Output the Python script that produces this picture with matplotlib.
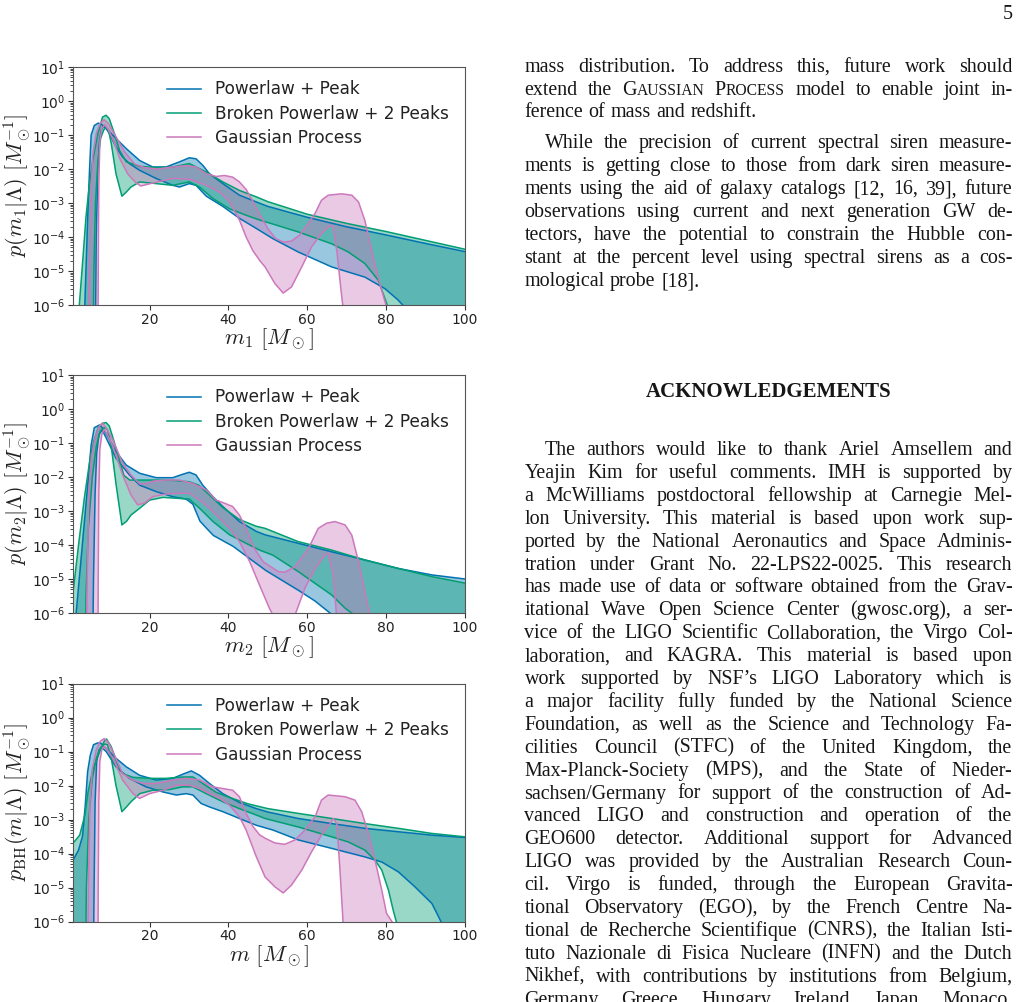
import numpy as np
import matplotlib
matplotlib.use("Agg")
import matplotlib.pyplot as plt
from matplotlib.ticker import LogLocator, NullFormatter, FixedLocator
from matplotlib.lines import Line2D

W, H = 1020, 1002
OFF = -8.0  # log10 value meaning "below the plotted range"

model_names = ["Powerlaw + Peak", "Broken Powerlaw + 2 Peaks", "Gaussian Process"]
model_colors = ["#0173b2", "#029e73", "#cc78bc"]
x_ticks = [20, 40, 60, 80, 100]
x_range = (0.6, 100)
y_range = (1e-6, 1e1)
y_labels = [r"$p(m_1|\Lambda)\ [M_\odot^{-1}]$", r"$p(m_2|\Lambda)\ [M_\odot^{-1}]$",
            r"$p_{\rm BH}(m|\Lambda)\ [M_\odot^{-1}]$"]
x_labels = [r"$m_1\ [M_\odot]$", r"$m_2\ [M_\odot]$", r"$m\ [M_\odot]$"]

# ---------------- panel 1 : m1  (x, log10 p) ----------------
m1_plp_hi = [(3.2, OFF), (3.6, -6), (4.3, -3.5), (4.8, -2.0), (5.2, -1.0), (6.0, -0.72), (7.0, -0.65),
             (8.0, -0.7), (9.0, -0.81), (11.5, -1.1), (14.1, -1.4), (17.5, -1.75), (20.8, -1.94),
             (24.2, -1.94), (27.6, -1.79), (30.1, -1.67), (31.8, -1.7), (33.5, -1.89), (35.2, -2.14),
             (38.6, -2.43), (42.8, -2.77), (47.1, -2.97), (50, -3.1), (60, -3.42), (70, -3.7),
             (80, -3.94), (90, -4.19), (100, -4.43)]
m1_plp_lo = [(6.2, OFF), (6.5, -4.0), (6.9, -2.0), (7.3, -1.2), (7.8, -0.85), (8.3, -0.75), (9.0, -0.8),
             (10, -1.0), (11.5, -1.35), (13.2, -1.65), (14.9, -1.84), (17.5, -2.04), (21.7, -2.28),
             (25.9, -2.48), (27.6, -2.53), (30.1, -2.43), (31.8, -2.48), (34.4, -2.8), (38.6, -3.1),
             (42.8, -3.45), (47.1, -3.75), (51.3, -4.05), (57.7, -4.44), (66.2, -4.88), (74.6, -5.18),
             (79.7, -5.52), (83, -5.85), (85, -6.1), (86, OFF), (100, OFF)]
m1_bpp_hi = [(1.8, OFF), (2.2, -6), (3.0, -4.8), (3.9, -3.4), (4.8, -2.4), (5.6, -1.75), (6.9, -0.96),
             (8.1, -0.47), (9.0, -0.42), (9.8, -0.52), (11.1, -0.96), (12.4, -1.45), (14.1, -1.79),
             (17.5, -1.92), (21.7, -1.96), (25.9, -1.94), (30.1, -1.84), (34.4, -2.09), (38.6, -2.38),
             (42.8, -2.63), (47.1, -2.82), (50, -2.96), (60, -3.33), (70, -3.6), (80, -3.84),
             (90, -4.1), (100, -4.36)]
m1_bpp_lo = [(5.6, OFF), (5.9, -5), (6.3, -3.0), (6.9, -1.8), (7.6, -1.1), (8.4, -0.85), (9.0, -0.78),
             (9.6, -0.85), (10.3, -1.25), (11.5, -2.14), (13.0, -2.8), (14.1, -2.68), (15.3, -2.53),
             (17.5, -2.38), (21.7, -2.43), (25.9, -2.48), (30.1, -2.38), (32.7, -2.53), (36.1, -2.87),
             (40.3, -3.17), (44.5, -3.36), (47.9, -3.5), (51.3, -3.62), (57.7, -3.85), (66.2, -4.2),
             (70.4, -4.44), (74.6, -4.78), (78, -5.27), (80.6, -6.1), (81.5, OFF), (100, OFF)]
m1_gp_hi = [(4.4, OFF), (4.7, -5), (5.1, -3), (5.6, -1.6), (6.5, -0.95), (7.5, -0.65), (8.5, -0.55),
            (9.5, -0.65), (11.5, -1.05), (13.7, -1.5), (16.2, -1.85), (18.8, -1.96), (22, -2.0),
            (25.9, -1.94), (29.3, -1.9), (31.8, -1.94), (34.4, -2.14), (36.9, -2.22), (39, -2.19),
            (41.1, -2.24), (42.8, -2.38), (44.5, -2.6), (46.2, -2.95), (48, -3.35), (50, -3.75),
            (52, -4.05), (54, -4.15), (56, -4.12), (58, -3.95), (60, -3.65), (62, -3.3), (63.6, -2.92),
            (65.3, -2.77), (68.7, -2.73), (71.3, -2.77), (73, -2.97), (74.6, -3.51), (76.3, -4.39),
            (78.4, -5.37), (80.1, -6.06), (81, OFF)]
m1_gp_lo = [(6.9, OFF), (7.0, -5), (7.15, -2.5), (7.4, -1.2), (7.9, -0.8), (8.7, -0.7), (9.6, -0.85),
            (11, -1.2), (12.5, -1.7), (14.5, -2.15), (16.5, -2.4), (17.8, -2.5), (19.5, -2.45),
            (22, -2.38), (25.9, -2.28), (30.1, -2.3), (34.4, -2.48), (37.8, -2.68), (40.3, -2.97),
            (42.8, -3.5), (44.5, -4.0), (46.2, -4.4), (48, -4.7), (49.3, -4.88), (51.8, -5.37),
            (53.9, -5.65), (56, -5.47), (58.6, -4.88), (61.1, -4.29), (63.6, -3.9), (65.8, -3.66),
            (66.5, -3.7), (67.5, -4.4), (68.5, -5.5), (69.1, -6.1), (69.5, OFF)]

# ---------------- panel 2 : m2 ----------------
m2_plp_hi = [(1.2, OFF), (1.4, -6), (2.5, -4.6), (3.5, -3.3), (4.5, -2.0), (5.2, -1.06), (6.0, -0.55),
             (7.3, -0.47), (8.0, -0.55), (9.0, -0.72), (11.5, -1.25), (14.1, -1.65), (17.5, -1.89),
             (21.7, -2.02), (25.9, -2.02), (28.4, -1.92), (30.1, -1.86), (31.8, -1.94), (33.5, -2.24),
             (36.1, -2.58), (38.6, -2.87), (42.8, -3.31), (47.1, -3.6), (49.3, -3.7), (57.7, -3.95),
             (66.2, -4.2), (74.6, -4.44), (83.1, -4.69), (91.6, -4.88), (100, -5.0)]
m2_plp_lo = [(5.5, OFF), (5.8, -5), (6.2, -2.5), (6.6, -1.3), (7.2, -0.75), (8.0, -0.62), (9.0, -0.85),
             (11.5, -1.45), (14.9, -1.94), (17.5, -2.24), (21.7, -2.43), (25.9, -2.58), (29.3, -2.65),
             (31, -2.8), (32.8, -3.3), (34.4, -3.5), (36.2, -3.72), (41.2, -4.04), (49.5, -4.75),
             (58, -5.35), (62, -5.65), (66.3, -6.05), (67.5, OFF), (100, OFF)]
m2_bpp_hi = [(0.6, -5.4), (2.0, -4.0), (3.5, -2.6), (5.0, -1.4), (6.0, -0.9), (7.0, -0.55), (8.0, -0.42),
             (9.0, -0.4), (9.8, -0.5), (11, -0.95), (12.5, -1.55), (13.5, -1.95), (15, -2.09),
             (21.7, -2.09), (25.9, -2.1), (30.1, -2.14), (32.5, -2.24), (35.2, -2.53), (38.6, -2.9),
             (42.8, -3.25), (47.1, -3.45), (49.3, -3.51), (57.7, -3.9), (66.2, -4.15), (74.6, -4.44),
             (83.1, -4.69), (91.6, -4.93), (100, -5.12)]
m2_bpp_lo = [(0.6, OFF), (3.6, OFF), (3.9, -5.5), (4.5, -3.5), (5.5, -2.0), (6.5, -1.1), (7.5, -0.65),
             (8.5, -0.55), (9.3, -0.6), (10.3, -1.1), (11.5, -2.2), (13.0, -3.41), (14.2, -3.3),
             (15.3, -3.12), (17.5, -2.92), (20, -2.68), (23.4, -2.6), (27.6, -2.63), (30.1, -2.65),
             (32.7, -2.92), (36.1, -3.31), (40.3, -3.7), (44.5, -3.95), (47.9, -4.15), (51.3, -4.3),
             (57.7, -4.78), (62, -5.13), (66.2, -5.47), (69.6, -5.86), (72.4, -6.1), (73, OFF), (100, OFF)]
m2_gp_hi = [(3.9, OFF), (4.2, -5), (4.6, -2.5), (5.3, -1.4), (6.3, -0.8), (7.3, -0.5), (8.1, -0.42),
            (9.0, -0.55), (10.7, -0.91), (13.2, -1.6), (15.3, -1.94), (17.5, -2.2), (19, -2.2),
            (21, -2.12), (24, -2.09), (27.6, -2.09), (31, -2.19), (34.4, -2.38), (36.9, -2.68),
            (39, -2.77), (41.1, -2.87), (42.8, -3.12), (44.5, -3.51), (46.6, -4.1), (48.8, -4.49),
            (52.6, -4.78), (54.3, -4.8), (56.9, -4.64), (60.3, -4.1), (62.8, -3.51), (64.9, -3.36),
            (67, -3.31), (69.6, -3.41), (71.3, -3.71), (73, -4.49), (74.6, -5.37), (75.9, -6.06),
            (76.5, OFF)]
m2_gp_lo = [(6.9, OFF), (7.0, -5), (7.15, -2.5), (7.4, -1.2), (7.9, -0.75), (8.5, -0.6), (9.3, -0.75),
            (10.7, -1.1), (13.2, -1.94), (15.3, -2.53), (17, -2.82), (18.7, -2.77), (20.8, -2.58),
            (24.2, -2.5), (27.6, -2.48), (30.1, -2.48), (32.7, -2.68), (35.2, -2.92), (37.8, -3.22),
            (40.3, -3.51), (42.8, -3.9), (45.4, -4.49), (47.9, -5.18), (50.4, -5.86), (51.3, -6.06),
            (52, OFF), (56, OFF), (56.9, -6.06), (59.4, -5.27), (62, -4.69), (64.5, -4.29),
            (65.3, -4.25), (66.6, -4.88), (67.4, -6.06), (68, OFF)]

# ---------------- panel 3 : pBH(m) ----------------
mbh_plp_hi = [(0.6, -4.2), (2.0, -3.9), (3.0, -3.5), (3.7, -2.6), (4.3, -1.6), (5.0, -1.1), (5.8, -0.8),
              (6.8, -0.75), (7.6, -0.75), (9, -0.91), (11.5, -1.2), (14.1, -1.45), (17.5, -1.7),
              (21.7, -1.84), (25.9, -1.79), (28.4, -1.67), (30.6, -1.57), (32.7, -1.7), (35.2, -1.94),
              (38.6, -2.24), (42.8, -2.5), (47.1, -2.68), (50, -2.78), (57.7, -2.97), (66.2, -3.12),
              (74.6, -3.26), (83.1, -3.36), (91.6, -3.46), (100, -3.53)]
mbh_plp_lo = [(0.6, OFF), (5.7, OFF), (5.95, -5), (6.2, -2.5), (6.6, -1.3), (7.2, -0.95), (8.0, -0.9),
              (9.0, -1.0), (11.5, -1.45), (14.9, -1.79), (19.1, -2.04), (23.4, -2.19), (26.8, -2.28),
              (29.3, -2.24), (31, -2.28), (33.1, -2.53), (35.2, -2.63), (38.6, -2.77), (42.8, -2.97),
              (47.1, -3.17), (51.3, -3.31), (57.7, -3.6), (66.2, -3.85), (74.6, -4.1), (78.9, -4.25),
              (83.1, -4.54), (87.3, -4.98), (91.6, -5.47), (93.3, -5.86), (94.3, -6.1), (95, OFF),
              (100, OFF)]
mbh_bpp_hi = [(0.6, -3.7), (2.3, -3.46), (3.6, -2.88), (4.4, -2.2), (5.7, -1.5), (7.4, -1.0), (8.5, -0.7),
              (9.1, -0.63), (10.3, -0.86), (12, -1.4), (13.2, -1.65), (15.8, -1.76), (20, -1.79),
              (24.2, -1.79), (28.4, -1.75), (31, -1.75), (33.5, -1.94), (36.9, -2.2), (40, -2.34),
              (45, -2.54), (50, -2.68), (57.7, -2.82), (66.2, -2.97), (74.6, -3.12), (83.1, -3.26),
              (91.6, -3.41), (100, -3.51)]
mbh_bpp_lo = [(0.6, OFF), (3.7, OFF), (4.0, -5), (4.6, -3.0), (5.5, -1.8), (6.5, -1.2), (7.5, -0.9),
              (8.5, -0.78), (9.3, -0.8), (10.3, -1.2), (11.5, -2.0), (13.0, -2.77), (14.0, -2.65),
              (15.3, -2.48), (17.5, -2.24), (20.8, -2.14), (25.1, -2.12), (28.4, -2.04), (31, -2.04),
              (34.4, -2.24), (38.6, -2.48), (42.8, -2.68), (47.1, -2.87), (49.3, -2.97), (57.7, -3.22),
              (66.2, -3.51), (70.4, -3.66), (74.6, -3.9), (77.2, -4.2), (78.9, -4.49), (80.6, -5.08),
              (81.8, -5.67), (82.7, -6.06), (83.2, OFF), (100, OFF)]
mbh_gp_hi = [(4.2, OFF), (4.5, -5), (4.9, -2.5), (5.5, -1.5), (6.5, -0.95), (7.5, -0.7), (8.5, -0.62),
             (9.5, -0.72), (10.7, -1.0), (13.2, -1.65), (15.8, -1.84), (18.3, -1.94), (21.7, -1.94),
             (25.9, -1.84), (29.3, -1.79), (32.7, -1.84), (36.1, -2.04), (38.6, -2.09), (41.1, -2.14),
             (42.8, -2.33), (44.5, -2.82), (46.2, -3.2), (47.9, -3.45), (49.3, -3.55), (51.8, -3.69),
             (54.3, -3.73), (56.9, -3.6), (59.4, -3.31), (62, -2.92), (63.6, -2.43), (65.3, -2.28),
             (69.6, -2.33), (72.1, -2.43), (73.8, -2.77), (75.5, -3.41), (77.2, -4.2), (78.9, -5.08),
             (80.1, -5.76), (81.8, -6.06), (82.3, OFF)]
mbh_gp_lo = [(6.9, OFF), (7.0, -5), (7.15, -2.5), (7.4, -1.3), (7.9, -0.95), (8.5, -0.85), (9.3, -0.95),
             (10.7, -1.2), (13.2, -1.84), (15.8, -2.24), (17.5, -2.38), (20, -2.24), (23.4, -2.14),
             (26.8, -1.99), (30.1, -1.99), (32.7, -2.09), (35.2, -2.24), (37.8, -2.38), (40.3, -2.58),
             (42.8, -2.92), (44.5, -3.31), (47.1, -4.1), (49.3, -4.69), (51.8, -4.98), (53.9, -5.16),
             (56, -4.93), (58.6, -4.49), (61.1, -3.95), (63.6, -3.46), (65.8, -3.12), (66.6, -2.97),
             (67.5, -3.12), (68.3, -4.49), (69.1, -6.06), (69.5, OFF)]

panels = [
    [(m1_plp_hi, m1_plp_lo), (m1_bpp_hi, m1_bpp_lo), (m1_gp_hi, m1_gp_lo)],
    [(m2_plp_hi, m2_plp_lo), (m2_bpp_hi, m2_bpp_lo), (m2_gp_hi, m2_gp_lo)],
    [(mbh_plp_hi, mbh_plp_lo), (mbh_bpp_hi, mbh_bpp_lo), (mbh_gp_hi, mbh_gp_lo)],
]

# ---------------- page text ----------------
para1 = ["mass distribution.  To address this, future work should",
         "extend the ~Gaussian ~Process model to enable joint in-",
         "ference of mass and redshift."]
para2 = ["While the precision of current spectral siren measure-",
         "ments is getting close to those from dark siren measure-",
         "ments using the aid of galaxy catalogs [12, 16, 39], future",
         "observations using current and next generation GW de-",
         "tectors, have the potential to constrain the Hubble con-",
         "stant at the percent level using spectral sirens as a cos-",
         "mological probe [18]."]
heading = "ACKNOWLEDGEMENTS"
para3 = ["The authors would like to thank Ariel Amsellem and",
         "Yeajin Kim for useful comments.  IMH is supported by",
         "a McWilliams postdoctoral fellowship at Carnegie Mel-",
         "lon University.  This material is based upon work sup-",
         "ported by the National Aeronautics and Space Adminis-",
         "tration under Grant No. 22-LPS22-0025.  This research",
         "has made use of data or software obtained from the Grav-",
         "itational Wave Open Science Center (gwosc.org), a ser-",
         "vice of the LIGO Scientific Collaboration, the Virgo Col-",
         "laboration, and KAGRA. This material is based upon",
         "work supported by NSF\u2019s LIGO Laboratory which is",
         "a major facility fully funded by the National Science",
         "Foundation, as well as the Science and Technology Fa-",
         "cilities Council (STFC) of the United Kingdom, the",
         "Max-Planck-Society (MPS), and the State of Nieder-",
         "sachsen/Germany for support of the construction of Ad-",
         "vanced LIGO and construction and operation of the",
         "GEO600 detector.  Additional support for Advanced",
         "LIGO was provided by the Australian Research Coun-",
         "cil.  Virgo is funded, through the European Gravita-",
         "tional Observatory (EGO), by the French Centre Na-",
         "tional de Recherche Scientifique (CNRS), the Italian Isti-",
         "tuto Nazionale di Fisica Nucleare (INFN) and the Dutch",
         "Nikhef, with contributions by institutions from Belgium,",
         "Germany, Greece, Hungary, Ireland, Japan, Monaco,"]
page_number = "5"

# ---------------- figure ----------------
fig = plt.figure(figsize=(W / 100, H / 100), dpi=100)
fig.patch.set_facecolor("white")

ax_tops = [67, 375, 683.5]
ax_left, ax_right, ax_h = 73, 465, 238
for i, top in enumerate(ax_tops):
    ax = fig.add_axes([ax_left / W, 1 - (top + ax_h) / H, (ax_right - ax_left) / W, ax_h / H])
    for (hi, lo), col in zip(panels[i], model_colors):
        h = np.array(hi, float)
        l = np.array(lo, float)
        xs = np.r_[h[:, 0], l[::-1, 0]]
        ys = 10.0 ** np.r_[h[:, 1], l[::-1, 1]]
        ax.fill(xs, ys, facecolor=col, alpha=0.4, lw=0)
        ax.plot(h[:, 0], 10.0 ** h[:, 1], color=col, lw=1.1)
        ax.plot(l[:, 0], 10.0 ** l[:, 1], color=col, lw=1.1)
    ax.set_yscale("log")
    ax.set_xlim(*x_range)
    ax.set_ylim(*y_range)
    ax.xaxis.set_major_locator(FixedLocator(x_ticks))
    ax.yaxis.set_major_locator(LogLocator(base=10, numticks=20))
    ax.yaxis.set_minor_locator(LogLocator(base=10, subs=np.arange(2, 10) * 1.0, numticks=100))
    ax.yaxis.set_minor_formatter(NullFormatter())
    ax.tick_params(which="major", labelsize=10, colors="#333333", labelcolor="#222222",
                   length=3.5, pad=2.0)
    ax.tick_params(which="minor", colors="#333333", length=2.0)
    for sp in ax.spines.values():
        sp.set_color("#555555")
        sp.set_linewidth(0.8)
    ax.set_ylabel(y_labels[i], fontsize=16, math_fontfamily="cm", color="#222222")
    ax.yaxis.set_label_coords(-0.103, 0.5)
    ax.set_xlabel(x_labels[i], fontsize=16.5, math_fontfamily="cm", labelpad=0, color="#222222")
    handles = [Line2D([], [], color=c, lw=1.1) for c in model_colors]
    ax.legend(handles, model_names, loc="upper left", bbox_to_anchor=(0.223, 0.972),
              borderaxespad=0, frameon=False, fontsize=12.2, labelspacing=0.38,
              handlelength=2.0, handletextpad=0.8, labelcolor="#222222")

# ---- text column ----
renderer = fig.canvas.get_renderer()
SERIF = "Liberation Serif"
FS = 14.4
TXT_COL = "#161616"
LEFT, RIGHT, INDENT = 524.5, 1012.5, 544.5


def seg_width(s, size, weight="normal"):
    t = fig.text(0, 0, s, family=SERIF, size=size, weight=weight)
    w = t.get_window_extent(renderer).width
    t.remove()
    return w


def word_parts(w):
    if w.startswith("~"):
        core = w[1:]
        return [(core[0], FS), (core[1:].upper(), FS * 0.78)]
    return [(w, FS)]


def draw_line(line, y_center, x0, justify):
    words = line.split()
    parts = [word_parts(w) for w in words]
    widths = [sum(seg_width(s, sz) for s, sz in p) for p in parts]
    natural = 0.27 * FS * 100 / 72
    if justify and len(words) > 1:
        gap = (RIGHT - x0 - sum(widths)) / (len(words) - 1)
    else:
        gap = natural
    x = x0
    base = y_center + 5
    for p, wd in zip(parts, widths):
        xx = x
        for s, sz in p:
            fig.text(xx / W, 1 - base / H, s, family=SERIF, size=sz, color=TXT_COL,
                     ha="left", va="baseline")
            xx += seg_width(s, sz)
        x += wd + gap


def draw_para(lines, y0, step, indent=True, last_justified=False):
    for k, ln in enumerate(lines):
        x0 = INDENT if (indent and k == 0) else LEFT
        just = (k < len(lines) - 1) or last_justified
        draw_line(ln, y0 + k * step, x0, just)


draw_para(para1, 67, 22.6, indent=False)
draw_para(para2, 143, 23.0, indent=True)
draw_para(para3, 450, 22.9, indent=True, last_justified=True)

fig.text(768.5 / W, 1 - 396.5 / H, heading, family=SERIF, size=15, weight="bold",
         color=TXT_COL, ha="center", va="baseline")
fig.text(1008 / W, 1 - 19 / H, page_number, family=SERIF, size=14.4, color=TXT_COL,
         ha="center", va="baseline")

fig.savefig("out.png", dpi=100, facecolor="white")
